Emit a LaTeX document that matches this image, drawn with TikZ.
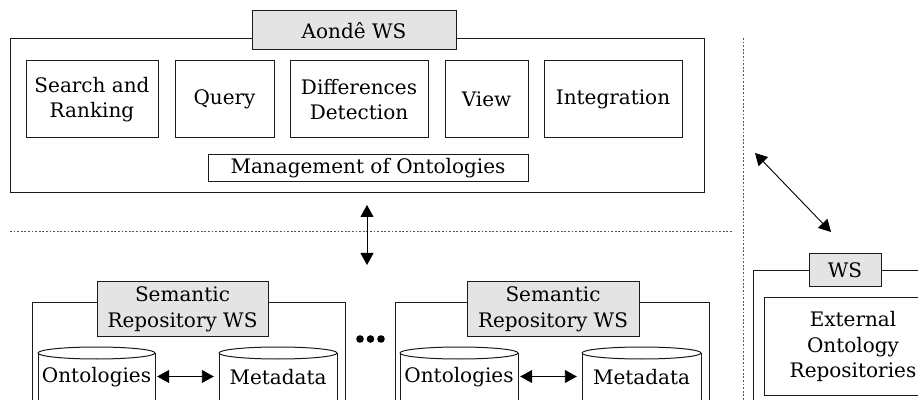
\documentclass[tikz,border=0pt]{standalone}
\usepackage{fontspec}
\setmainfont{DejaVu Serif}
\usetikzlibrary{arrows.meta,calc}
\definecolor{linec}{HTML}{1A1A1A}
\definecolor{tabgray}{HTML}{E4E4E4}
\definecolor{dotc}{HTML}{555555}
\begin{document}
\begin{tikzpicture}[x=1pt,y=1pt,
  font=\fontsize{20}{25.5}\selectfont,
  box/.style={draw=linec, line width=1pt, align=center, inner sep=0pt, fill=white},
  tab/.style={box, fill=tabgray},
  arr/.style={{Triangle[length=12pt,width=13pt]}-{Triangle[length=12pt,width=13pt]}, line width=0.9pt, draw=black},
  dotl/.style={draw=dotc, dash pattern=on 1.8pt off 1.8pt, line width=1pt},
  cyltext/.style={inner sep=0pt, minimum height=20pt}
]
\clip (0,0) rectangle (918,399);
\fill[white] (0,0) rectangle (918,399);

\newcommand\mycyl[4]{%
  \node[cyltext, minimum width=#3pt] (#1) at (#2,21.5) {#4};
  \draw[linec, line width=1pt] ({#2-#3/2},46) -- ({#2-#3/2},-10) -- ({#2+#3/2},-10) -- ({#2+#3/2},46);
  \draw[linec, line width=1pt] (#2,46) ellipse [x radius={#3/2}, y radius=6];
}

% dotted separators
\draw[dotl] (743,361) -- (743,-5);
\draw[dotl] (10,167) -- (733,167);

% Aonde WS
\node[box, minimum width=694pt, minimum height=154pt] (aonde) at (357,283) {};
\node[tab, minimum width=204pt, minimum height=39pt] (aondetab) at (354,368.5) {Aondê WS};
\node[box, minimum width=132pt, minimum height=77pt] (sr) at (92,299.5) {Search and\\Ranking};
\node[box, minimum width=99pt, minimum height=77pt] (query) at (224.5,299.5) {Query};
\node[box, minimum width=138pt, minimum height=77pt] (dd) at (359,299.5) {Differences\\Detection};
\node[box, minimum width=83pt, minimum height=77pt] (view) at (486.5,299.5) {View};
\node[box, minimum width=138pt, minimum height=77pt] (integ) at (613,299.5) {Integration};
\node[box, minimum width=320pt, minimum height=27pt] (mgmt) at (368,230.5) {Management of Ontologies};

% arrows
\coordinate (va1) at (367,194);
\coordinate (va2) at (367,134);
\draw[arr] (va1) -- (va2);
\coordinate (da1) at (755,246);
\coordinate (da2) at (831,167);
\draw[arr] (da1) -- (da2);

% Semantic repository 1
\node[box, minimum width=313pt, minimum height=116pt] (sem1) at (188.5,38) {};
\node[tab, minimum width=171pt, minimum height=55pt] (sem1tab) at (182.5,89.5) {Semantic\\Repository WS};
\mycyl{o1}{96.5}{117}{Ontologies}
\mycyl{m1}{278}{118}{Metadata}
\draw[arr, shorten <=2pt, shorten >=5pt] ([yshift=1pt]o1.east) -- ([yshift=1pt]m1.west);

% dots
\fill (360,60) circle (3.8);
\fill (370.5,60) circle (3.8);
\fill (381,60) circle (3.8);

% Semantic repository 2
\node[box, minimum width=314pt, minimum height=116pt] (sem2) at (552,38) {};
\node[tab, minimum width=172pt, minimum height=55pt] (sem2tab) at (553,89.5) {Semantic\\Repository WS};
\mycyl{o2}{459}{118}{Ontologies}
\mycyl{m2}{641.5}{119}{Metadata}
\draw[arr, shorten <=2pt, shorten >=5pt] ([yshift=1pt]o2.east) -- ([yshift=1pt]m2.west);

% External WS
\node[box, minimum width=207pt, minimum height=148pt] (ws) at (856.5,54) {};
\node[tab, minimum width=72pt, minimum height=33pt] (wstab) at (845,128.5) {WS};
\node[box, minimum width=178pt, minimum height=97pt] (ext) at (853,52.5) {External\\Ontology\\Repositories};
\end{tikzpicture}
\end{document}
